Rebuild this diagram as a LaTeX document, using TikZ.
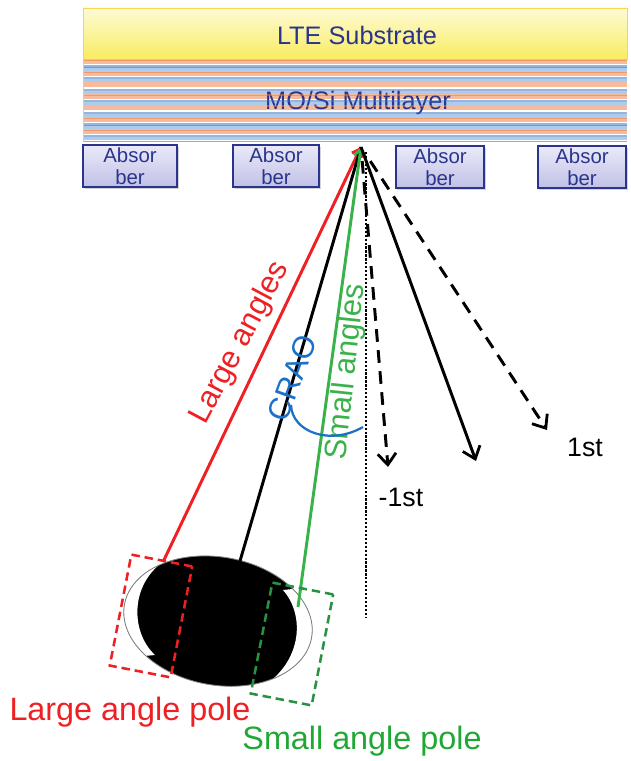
\documentclass[tikz,border=0pt]{standalone}
\usepackage{fontspec}
\setmainfont{Liberation Sans}
\usetikzlibrary{arrows.meta}
\usetikzlibrary{shadows}

\definecolor{navy}{RGB}{43,52,140}
\definecolor{lteyellow}{RGB}{248,236,96}
\definecolor{ltepale}{RGB}{254,251,214}
\definecolor{moorange}{RGB}{238,120,58}
\definecolor{mopeach}{RGB}{248,186,156}
\definecolor{siblue}{RGB}{46,108,190}
\definecolor{sipale}{RGB}{172,204,238}
\definecolor{abstop}{RGB}{234,234,249}
\definecolor{absbot}{RGB}{192,192,230}
\definecolor{rayred}{RGB}{238,32,36}
\definecolor{raygreen}{RGB}{58,178,74}
\definecolor{polegreen}{RGB}{40,146,66}
\definecolor{craoblue}{RGB}{28,112,200}

\tikzset{
  absorber/.style={draw=navy, line width=1.5pt, top color=abstop, bottom color=absbot,
    drop shadow={shadow xshift=1.2pt, shadow yshift=-1.2pt, opacity=.35},
    minimum height=1.05cm, inner sep=0pt, align=center, text=navy,
    font=\fontsize{14.5}{15.5}\selectfont},
  ray/.style={line width=2.1pt},
  intip/.style={-{Straight Barb[length=5pt,width=8pt,line width=2pt]}},
  ordertip/.style={-{Straight Barb[length=8pt,width=13pt,line width=2pt]}},
  orderdash/.style={dash pattern=on 9pt off 6pt},
  polebox/.style={draw, line width=1.8pt, dash pattern=on 6pt off 3.5pt,
    minimum width=1.55cm, minimum height=2.825cm, rotate=-11},
  bigtext/.style={font=\fontsize{23}{26}\selectfont, inner sep=0pt},
  raytext/.style={font=\fontsize{22}{24}\selectfont, inner sep=0pt},
  ordertext/.style={font=\fontsize{19}{21}\selectfont, inner sep=0pt},
}

\begin{document}
\begin{tikzpicture}[x=0.025cm, y=-0.025cm]
\useasboundingbox (0,0) rectangle (630,761);

% mask: substrate and Mo/Si stack
\draw[draw=lteyellow!80!orange, line width=.6pt, top color=ltepale, bottom color=lteyellow]
  (83,8) rectangle (627,59);
\node[text=navy, font=\fontsize{18}{20}\selectfont] (lte) at (357,35) {LTE Substrate};
\fill[white] (83,59) rectangle (627,142);
\foreach \k [evaluate=\k as \yy using 59+11.6*\k] in {0,...,6} {
  \fill[mopeach] (83,\yy+1.5) rectangle (627,\yy+5);
  \fill[sipale] (83,\yy+8.5) rectangle (627,\yy+11.6);
}
\node[text=navy, font=\fontsize{18}{20}\selectfont] (mosi) at (358,103) {MO/Si Multilayer};
\foreach \k [evaluate=\k as \yy using 59+11.6*\k] in {0,...,6} {
  \draw[moorange, line width=1.4pt, opacity=.5] (83,\yy+1) -- (627,\yy+1);
  \draw[siblue, line width=1.6pt, opacity=.5] (83,\yy+7.5) -- (627,\yy+7.5);
}
\draw[gray!70, line width=.8pt] (83,141.5) -- (627,141.5);
\draw[gray!40, line width=.6pt] (83,59) -- (83,142);

\node[absorber, minimum width=2.35cm] (abs1) at (130,166) {Absor\\ber};
\node[absorber, minimum width=2.15cm] (abs2) at (276,166) {Absor\\ber};
\node[absorber, minimum width=2.22cm] (abs3) at (440,167) {Absor\\ber};
\node[absorber, minimum width=2.22cm] (abs4) at (582,167) {Absor\\ber};

% pupil fill with the two poles
\coordinate (pupil) at (218,621);
\fill[rotate around={-10:(pupil)}] (pupil) ellipse [x radius=95, y radius=64];
\begin{scope}
  \clip[rotate around={-10:(pupil)}] (pupil) ellipse [x radius=95, y radius=64];
  \fill[white] (175,555) .. controls (130,575) and (128,630) .. (155,655)
    -- (100,660) -- (100,550) -- cycle;
  \fill[white] (283,590) .. controls (305,615) and (302,660) .. (265,685)
    -- (330,690) -- (330,585) -- cycle;
\end{scope}
\draw[gray, line width=.6pt, rotate around={-10:(pupil)}] (pupil) ellipse [x radius=95, y radius=64];

% incident rays
\coordinate (apex) at (361,147);
\coordinate (lpole) at (163,562);
\coordinate (cpole) at (240,561);
\coordinate (spole) at (298,607);
\draw[ray, rayred, intip] (lpole) -- (apex);
\draw[ray, black] (cpole) -- (apex);
\draw[ray, raygreen, intip] (spole) -- (apex);

\node[polebox, rayred] (lbox) at (151,616) {};
\node[polebox, polegreen] (sbox) at (292,644) {};

% normal and diffracted orders
\coordinate (axistop) at (366,152);
\coordinate (axisend) at (366,618);
\draw[line width=.8pt, dash pattern=on 1.6pt off 1.2pt] (axistop) -- (axisend);
\coordinate (m1) at (388,467);
\coordinate (z0) at (476,461);
\coordinate (p1) at (547,430);
\draw[ray, orderdash, ordertip, shorten <=10pt] (apex) -- (m1);
\draw[ray, ordertip] (apex) -- (z0);
\draw[ray, orderdash, ordertip, shorten <=12pt] (apex) -- (p1);
\node[ordertext] (m1lbl) at (401,497) {-1st};
\node[ordertext] (p1lbl) at (585,447) {1st};

% angle labels
\node[raytext, text=rayred, rotate=62] (large) at (240,343) {Large angles};
\node[raytext, text=raygreen, rotate=84] (small) at (347,372) {Small angles};
\node[raytext, text=craoblue, rotate=70] (crao) at (292,378) {CRAO};
\draw[craoblue, line width=1.6pt] (291,405) .. controls (292,432) and (330,446) .. (363,427);

\node[bigtext, text=rayred] (lpolelbl) at (130,712) {Large angle pole};
\node[bigtext, text=polegreen!80!green] (spolelbl) at (362,741) {Small angle pole};
\end{tikzpicture}
\end{document}
